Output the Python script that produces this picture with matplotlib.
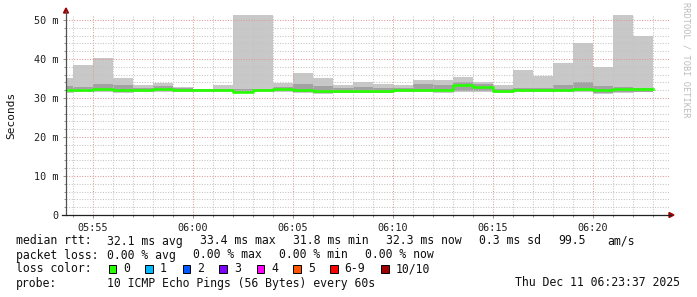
import numpy as np
import matplotlib
matplotlib.use("Agg")
import matplotlib.pyplot as plt
from matplotlib.patches import Rectangle, Polygon
from matplotlib.lines import Line2D

# starttid for hver minuttsøyle
tider = ["05:53", "05:54", "05:55", "05:56", "05:57", "05:58", "05:59", "06:00",
         "06:01", "06:02", "06:03", "06:04", "06:05", "06:06", "06:07", "06:08",
         "06:09", "06:10", "06:11", "06:12", "06:13", "06:14", "06:15", "06:16",
         "06:17", "06:18", "06:19", "06:20", "06:21", "06:22"]

# ms
maks = [35.2, 38.5, 40.3, 35.2, 33.3, 33.9, 32.8, 32.4, 33.2, 51.6,
        51.6, 33.8, 36.5, 35.2, 33.2, 34.0, 33.6, 33.3, 34.6, 34.6,
        35.3, 34.1, 33.2, 37.3, 35.7, 39.0, 44.1, 37.9, 51.6, 46.0]
ovre = [33.0, 32.7, 33.6, 33.3, 32.5, 33.1, 32.5, 32.3, 32.4, 32.3,
        32.3, 32.8, 33.6, 33.1, 32.5, 32.8, 32.5, 32.6, 33.7, 33.3,
        34.2, 33.5, 32.3, 32.5, 32.6, 33.3, 34.0, 33.0, 32.8, 32.5]
nedre = [32.3, 32.2, 31.8, 31.6, 31.8, 31.9, 31.8, 31.8, 31.8, 31.4,
         31.8, 31.8, 31.6, 31.2, 31.4, 31.4, 31.4, 31.8, 31.8, 31.8,
         31.9, 31.9, 31.5, 31.8, 31.8, 31.8, 31.8, 31.4, 31.6, 31.6]
median = [32.1, 32.1, 32.4, 32.0, 32.0, 32.2, 32.0, 32.0, 32.0, 31.6,
          32.0, 32.2, 32.0, 31.8, 31.7, 31.7, 31.7, 32.1, 32.1, 32.0,
          33.2, 32.8, 31.8, 32.0, 32.1, 32.1, 32.3, 32.1, 32.3, 32.3]
minst = [31.2, 31.6, 31.6, 31.2, 31.6, 31.6, 31.6, 31.6, 31.6, 31.2,
         31.6, 31.6, 31.2, 31.0, 31.2, 31.2, 31.2, 31.6, 31.6, 31.4,
         31.6, 31.6, 31.4, 31.6, 31.6, 31.6, 31.6, 31.0, 31.4, 31.6]

y_ticks = [0, 10, 20, 30, 40, 50]
y_etiketter = ["0", "10 m", "20 m", "30 m", "40 m", "50 m"]
x_etiketter = ["05:55", "06:00", "06:05", "06:10", "06:15", "06:20"]

tapsfarger = ["#26ff00", "#00b8ff", "#0059ff", "#7e00ff", "#ff00ff", "#ff5500", "#ff0000", "#a10000"]
tapsnavn = ["0", "1", "2", "3", "4", "5", "6-9", "10/10"]


def til_min(t):
    h, m = t.split(":")
    return int(h) * 60 + int(m)


def kant(v):
    return np.append(v, v[-1])


W, H = 697, 297
fig = plt.figure(figsize=(W / 100, H / 100), dpi=100)
fig.patch.set_facecolor("white")

venstre, hoyre, bunn, topp = 66, 669, 215, 14.5
ax = fig.add_axes([venstre / W, 1 - bunn / H, (hoyre - venstre) / W, (bunn - topp) / H])

x = np.array([til_min(t) for t in tider] + [til_min(tider[-1]) + 1])

ax.fill_between(x, kant(minst), kant(maks), step="post", color="#c8c8c8", lw=0)
ax.fill_between(x, kant(nedre), kant(ovre), step="post", color="#a2a2a2", lw=0)
ax.step(x, kant(median), where="post", color="#26ff00", lw=1.9)

x0 = til_min("05:55")
ax.set_xlim(x0 - 27 / 20, x0 + (hoyre - 93) / 20)
ax.set_ylim(0, 51.4)

xt = [til_min(t) for t in x_etiketter]
ax.set_xticks(xt)
ax.set_xticklabels(x_etiketter)
ax.set_xticks(np.arange(til_min("05:54"), til_min("06:24")), minor=True)
ax.set_yticks(y_ticks)
ax.set_yticklabels(y_etiketter)
ax.set_yticks(np.arange(0, 52, 2), minor=True)

for lab in ax.get_xticklabels() + ax.get_yticklabels():
    lab.set_family("DejaVu Sans Mono")
    lab.set_fontsize(7.3)
    lab.set_color("#202020")

ax.tick_params(which="both", color="#909090", width=0.7, direction="out")
ax.tick_params(which="major", length=2.5, pad=3)
ax.tick_params(which="minor", length=1.5)

ax.set_axisbelow("line")
ax.grid(which="minor", color="#c4c4c4", lw=0.75, linestyle=(0, (1, 1.5)))
ax.grid(which="major", color="#e09a9a", lw=0.75, linestyle=(0, (1, 1.5)))

for s in ax.spines.values():
    s.set_visible(False)

# aksene med piler
fig.add_artist(Line2D([venstre / W, venstre / W], [1 - bunn / H, 1 - 11 / H], color="#505050", lw=0.9))
fig.add_artist(Line2D([62 / W, 671 / W], [1 - bunn / H, 1 - bunn / H], color="#202020", lw=0.9))
fig.add_artist(Polygon([[(venstre - 2.5) / W, 1 - 13 / H], [(venstre + 2.5) / W, 1 - 13 / H],
                        [venstre / W, 1 - 8 / H]], closed=True, color="#a00000", transform=fig.transFigure))
fig.add_artist(Polygon([[669 / W, 1 - 212.5 / H], [669 / W, 1 - 217.5 / H],
                        [674 / W, 1 - bunn / H]], closed=True, color="#a00000", transform=fig.transFigure))


def tekst(px, py, s, **kw):
    fig.text(px / W, 1 - py / H, s, va="center", family="DejaVu Sans Mono",
             fontsize=kw.pop("fontsize", 8.3), color=kw.pop("color", "#101010"), **kw)


tekst(11, 115, "Seconds", rotation=90, ha="center", fontsize=8)
tekst(686, 60, "RRDTOOL / TOBI OETIKER", rotation=270, ha="center", fontsize=6.2, color="#bcbcbc")

tekst(16, 241, "median rtt:")
tekst(107.3, 241, "32.1 ms avg")
tekst(200, 241, "33.4 ms max")
tekst(293.3, 241, "31.8 ms min")
tekst(386, 241, "32.3 ms now")
tekst(479.3, 241, "0.3 ms sd")
tekst(558.3, 241, "99.5")
tekst(607.3, 241, "am/s")

tekst(16, 255, "packet loss:")
tekst(107.3, 255, "0.00 % avg")
tekst(193.3, 255, "0.00 % max")
tekst(279.3, 255, "0.00 % min")
tekst(365, 255, "0.00 % now")

tekst(16, 269, "loss color:")
rute_x = [108.7, 145.3, 182.7, 219.3, 256.7, 293.3, 330, 381.3]
for rx, farge, navn in zip(rute_x, tapsfarger, tapsnavn):
    fig.add_artist(Rectangle((rx / W, 1 - 272.5 / H), 7.5 / W, 7.5 / H, facecolor=farge,
                             edgecolor="black", lw=0.7, transform=fig.transFigure))
    tekst(rx + 14.7, 269, navn)

tekst(16, 283, "probe:")
tekst(107.3, 283, "10 ICMP Echo Pings (56 Bytes) every 60s")
tekst(680, 283, "Thu Dec 11 06:23:37 2025", ha="right")

fig.savefig("out.png", dpi=100, facecolor="white")
